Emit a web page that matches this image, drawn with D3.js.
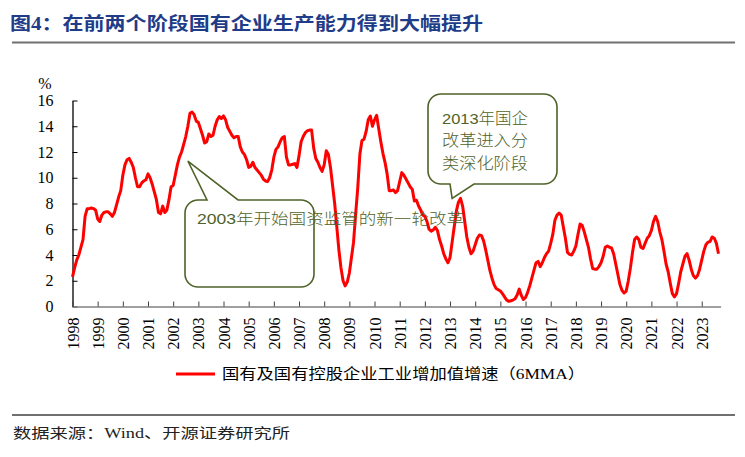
<!DOCTYPE html>
<html><head><meta charset="utf-8">
<script src="https://cdn.jsdelivr.net/npm/d3@7/dist/d3.min.js"></script>
<style>body{margin:0;background:#fff}svg{display:block}</style>
</head><body><svg id="c" width="745" height="457"></svg>
<script>
const titleText = "图4：在前两个阶段国有企业生产能力得到大幅提升";
const sourceText = "数据来源：Wind、开源证券研究所";
const seriesName = "国有及国有控股企业工业增加值增速（6MMA）";
const yUnit = "%";
const yearLabels = ["1998","1999","2000","2001","2002","2003","2004","2005","2006","2007","2008","2009","2010","2011","2012","2013","2014","2015","2016","2017","2018","2019","2020","2021","2022","2023"];
const yTicks = [0,2,4,6,8,10,12,14,16];
// monthly values, Jan 1998 - Sep 2023
const values = [
  2.3,3.0,3.6,4.0,4.6,5.2,7.0,7.6,7.6,7.65,7.6,7.5,
  6.8,6.6,7.1,7.3,7.35,7.35,7.2,7.0,7.3,7.9,8.5,9.0,
  10.2,11.0,11.4,11.5,11.2,10.8,10.0,9.3,9.3,9.6,9.75,9.85,
  10.3,10.0,9.5,8.9,8.3,7.3,7.2,7.8,7.3,7.5,8.3,9.3,
  9.4,10.2,11.0,11.6,12.0,12.6,13.2,14.0,15.0,15.1,14.9,14.4,
  14.3,13.8,13.3,12.7,12.8,13.4,13.2,13.3,14.0,14.5,14.75,14.6,
  14.8,14.5,13.9,13.6,13.3,13.1,13.2,13.2,12.4,12.0,11.8,11.4,
  10.8,10.9,11.2,10.8,10.6,10.4,10.2,9.9,9.75,9.7,10.0,10.6,
  11.6,12.2,12.4,12.8,13.1,13.2,11.6,11.0,11.0,11.05,11.1,10.8,
  11.7,12.8,13.2,13.5,13.65,13.7,13.7,12.3,11.5,11.2,10.8,10.5,
  11.0,12.1,11.8,10.8,9.4,8.0,6.2,4.4,3.0,2.0,1.6,1.9,
  2.6,3.8,5.0,7.2,9.2,11.8,12.9,13.0,13.6,14.5,14.8,14.0,
  14.5,14.85,13.8,12.8,11.9,11.2,10.3,9.0,9.0,9.05,8.85,9.0,
  9.7,10.4,10.2,9.9,9.6,9.3,9.1,8.2,8.25,7.8,7.5,7.1,
  7.0,6.6,6.0,5.85,5.95,6.15,5.9,5.2,4.7,4.1,3.7,3.4,
  3.8,5.0,6.2,7.4,8.1,8.4,7.8,6.6,5.4,4.6,4.1,4.3,
  4.8,5.3,5.55,5.5,5.1,4.4,3.6,2.8,2.2,1.7,1.4,1.3,
  1.2,1.0,0.75,0.5,0.4,0.45,0.5,0.6,0.9,1.35,0.85,0.55,
  0.7,1.1,1.6,2.2,2.8,3.4,3.5,3.1,3.4,3.8,4.1,4.3,
  4.9,5.6,6.7,7.1,7.25,7.1,6.2,5.3,4.2,4.05,4.0,4.3,
  4.7,5.6,6.4,6.3,5.8,5.2,4.6,3.7,2.95,2.9,2.9,3.1,
  3.4,3.9,4.6,4.7,4.6,4.55,4.1,3.3,2.5,1.7,1.25,1.05,
  1.2,2.0,3.0,4.2,5.2,5.4,5.2,4.6,4.5,4.9,5.3,5.5,
  5.9,6.6,7.0,6.6,5.8,5.2,4.3,3.3,2.7,1.8,1.0,0.75,
  1.0,1.8,2.7,3.3,3.9,4.1,3.6,2.9,2.4,2.2,2.4,2.9,
  3.6,4.3,4.8,5.0,5.05,5.4,5.3,4.9,4.1
];
const note1 = "2003年开始国资监管的新一轮改革";
const note1Anchor = [55, 11.3];
const note2Lines = ["2013年国企","改革进入分","类深化阶段"];
const note2Anchor = [181, 8.4];

const svg = d3.select("#c");
const serif = "'Liberation Serif','Times New Roman','Noto Sans CJK SC',serif";
const green = "#4F6228";

const x = d3.scaleLinear().domain([0, 309]).range([72.5, 720.6]);
const y = d3.scaleLinear().domain([0, 16]).range([306.5, 100.5]);

// title
svg.append("text").attr("x",10).attr("y",30)
  .attr("textLength",473).attr("lengthAdjust","spacingAndGlyphs")
  .style("font-family","'Liberation Serif','Noto Sans CJK SC',serif")
  .style("font-weight","bold").style("font-size","18px").style("fill","#1F3C88")
  .text(titleText);
svg.append("line").attr("x1",12).attr("x2",735).attr("y1",42.5).attr("y2",42.5)
  .attr("stroke","#707070").attr("stroke-width",2);

// axes
const yAxis = d3.axisLeft(y).tickValues(yTicks).tickSizeInner(-5).tickSizeOuter(0).tickPadding(19);
const gy = svg.append("g").attr("transform","translate(72.5,0)").call(yAxis);
gy.attr("font-family",null);
gy.select(".domain").attr("stroke","#000").attr("stroke-width",1.3);
gy.selectAll(".tick line").attr("stroke","#000");
gy.selectAll("text").style("font-family",serif).style("font-size","16px").style("fill","#000");

const xAxis = d3.axisBottom(x).tickValues(yearLabels.map((d,i)=>i*12))
  .tickFormat((d,i)=>yearLabels[i]).tickSizeInner(-5).tickSizeOuter(0);
const gx = svg.append("g").attr("transform","translate(0,306.5)").call(xAxis);
gx.attr("font-family",null);
gx.select(".domain").attr("stroke","#808080").attr("stroke-width",1.5);
gx.selectAll(".tick line").attr("stroke","#404040");
gx.selectAll("text").attr("transform","rotate(-90)").attr("x",-11).attr("y",0).attr("dy","0.35em")
  .style("text-anchor","end").style("font-family",serif).style("font-size","16px").style("fill","#000");

svg.append("text").attr("x",45).attr("y",89).attr("text-anchor","middle")
  .style("font-family",serif).style("font-size","16px").text(yUnit);

// line
const line = d3.line().x((d,i)=>x(i)).y(d=>y(d)).curve(d3.curveLinear);
svg.append("path").datum(values).attr("d",line).attr("fill","none")
  .attr("stroke","#FF0000").attr("stroke-width",3).attr("stroke-linejoin","round");

// callouts
function roundedCallout(bx,by,bw,bh,r,tail){
  const p = d3.path();
  p.moveTo(bx+r,by);
  if(tail.side==="top"){ p.lineTo(tail.a,by); p.lineTo(tail.tx,tail.ty); p.lineTo(tail.b,by); }
  p.lineTo(bx+bw-r,by); p.arcTo(bx+bw,by,bx+bw,by+r,r);
  p.lineTo(bx+bw,by+bh-r); p.arcTo(bx+bw,by+bh,bx+bw-r,by+bh,r);
  if(tail.side==="bottom"){ p.lineTo(tail.b,by+bh); p.lineTo(tail.tx,tail.ty); p.lineTo(tail.a,by+bh); }
  p.lineTo(bx+r,by+bh); p.arcTo(bx,by+bh,bx,by+bh-r,r);
  p.lineTo(bx,by+r); p.arcTo(bx,by,bx+r,by,r);
  p.closePath();
  return p.toString();
}
const t1x = x(note1Anchor[0]), t1y = y(note1Anchor[1]);
svg.append("path").attr("d",roundedCallout(185,200,129,87,13,{side:"top",a:207,b:238,tx:t1x,ty:t1y}))
  .attr("fill","#fff").attr("stroke",green).attr("stroke-width",1.6);
const t2x = x(note2Anchor[0]), t2y = y(note2Anchor[1]);
svg.append("path").attr("d",roundedCallout(428,94,129,90,13,{side:"bottom",a:450,b:474,tx:t2x,ty:t2y}))
  .attr("fill","#fff").attr("stroke",green).attr("stroke-width",1.6);

svg.append("text").attr("x",197).attr("y",219).attr("dy","0.35em")
  .attr("textLength",267).attr("lengthAdjust","spacingAndGlyphs")
  .style("font-family","'Liberation Sans','Noto Sans CJK SC',sans-serif").style("font-size","15px")
  .style("font-weight","300").style("fill",green).text(note1);
note2Lines.forEach((t,i)=>{
  svg.append("text").attr("x",442).attr("y",118.5+i*22.3).attr("dy","0.35em")
    .attr("textLength",86).attr("lengthAdjust","spacingAndGlyphs")
    .style("font-family","'Liberation Sans','Noto Sans CJK SC',sans-serif").style("font-size","15.5px")
    .style("font-weight","300").style("fill",green).text(t);
});

// legend
svg.append("line").attr("x1",176).attr("x2",215).attr("y1",374).attr("y2",374)
  .attr("stroke","#FF0000").attr("stroke-width",3);
svg.append("text").attr("x",222).attr("y",374).attr("dy","0.35em")
  .attr("textLength",363).attr("lengthAdjust","spacingAndGlyphs")
  .style("font-family",serif).style("font-size","15px").style("fill","#000").text(seriesName);

// source
svg.append("line").attr("x1",12).attr("x2",735).attr("y1",415).attr("y2",415)
  .attr("stroke","#404040").attr("stroke-width",1.5);
svg.append("text").attr("x",13).attr("y",433).attr("dy","0.35em")
  .attr("textLength",277).attr("lengthAdjust","spacingAndGlyphs")
  .style("font-family",serif).style("font-size","14px").style("fill","#222").text(sourceText);
</script></body></html>
